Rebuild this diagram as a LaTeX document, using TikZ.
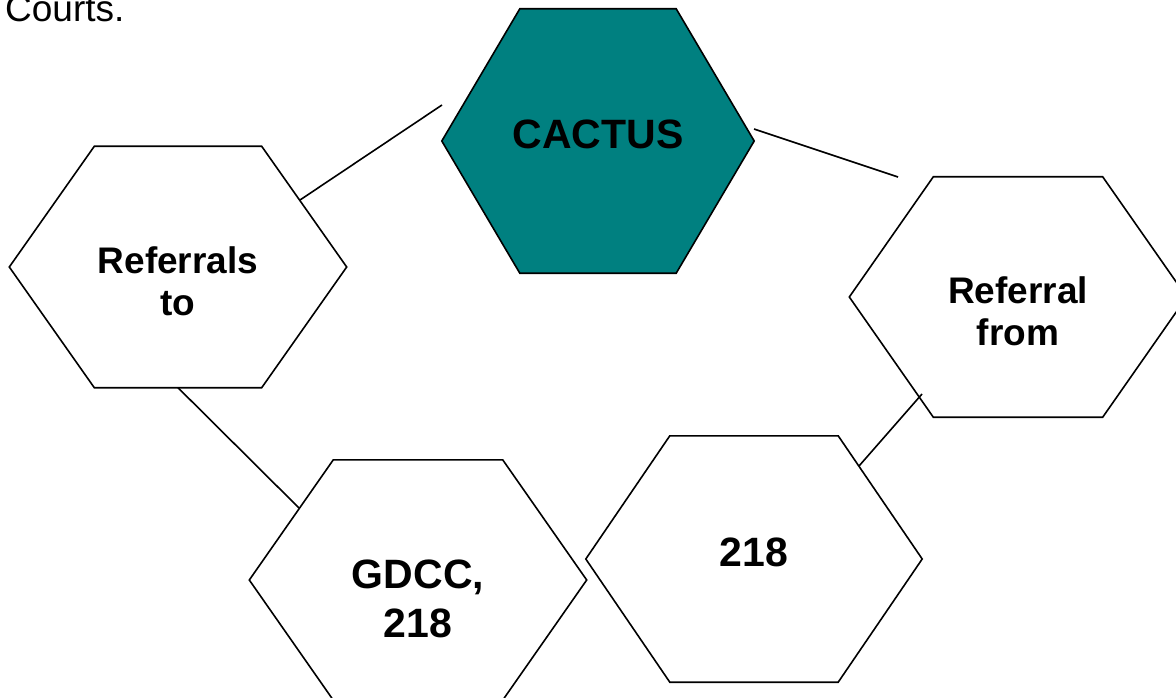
\documentclass[tikz,border=0pt]{standalone}
\usepackage{fontspec}
\setmainfont{Liberation Sans}
\usetikzlibrary{calc}
\definecolor{cactusteal}{RGB}{0,128,128}

\begin{document}
\begin{tikzpicture}[x=1pt,y=-1pt]
    \tikzset{hexbox/.style = {shape=rectangle,inner sep=0pt}}
    \tikzset{hexline/.style = {draw,line width=1.6pt,line join=miter}}
    \tikzset{hextext/.style = {align=center,inner sep=0pt,font=\bfseries\fontsize{37}{42}\selectfont}}
    \tikzset{bigtext/.style = {align=center,inner sep=0pt,font=\bfseries\fontsize{41}{49}\selectfont}}
    \tikzset{link/.style = {line width=1.6pt}}
    \useasboundingbox (0,0) rectangle (1176,698);
    % top text
    \node[anchor=base west,inner sep=0pt,font=\fontsize{37}{42}\selectfont] (courts) at (5,22) {Courts.};
    % hexagons
    \node[hexbox,minimum width=312pt,minimum height=264pt] (cactus) at (598,141) {};
    \node[hexbox,minimum width=337pt,minimum height=241pt] (refto) at (178,267) {};
    \node[hexbox,minimum width=337pt,minimum height=240pt] (reffrom) at (1018,297) {};
    \node[hexbox,minimum width=337pt,minimum height=240pt] (gdcc) at (418,580) {};
    \node[hexbox,minimum width=336pt,minimum height=246pt] (two) at (754,559) {};
    \foreach \n/\c/\f in {cactus/78/cactusteal, refto/85/none, reffrom/84/none, gdcc/84/none, two/84/none}
      \draw[hexline,fill=\f] ($(\n.north west)+(\c,0)$) -- ($(\n.north east)+(-\c,0)$) -- (\n.east)
        -- ($(\n.south east)+(-\c,0)$) -- ($(\n.south west)+(\c,0)$) -- (\n.west) -- cycle;
    % labels
    \node[bigtext] (cactustxt) at (598,134) {CACTUS};
    \node[hextext] (reftotxt) at (178,281) {Referrals\\to};
    \node[hextext] (reffromtxt) at (1018,311) {Referral\\from};
    \node[bigtext] (gdcctxt) at (418,599) {GDCC,\\218};
    \node[bigtext] (twotxt) at (754,552) {218};
%%%%%%%%%%%%%%%%%
    % connectors
    \coordinate (la) at (300,200);
    \coordinate (lb) at (442,105);
    \coordinate (lc) at (754,129);
    \coordinate (ld) at (898,177);
    \coordinate (le) at (859,466);
    \coordinate (lf) at (922,394);
    \draw[link] (la) -- (lb);
    \draw[link] (lc) -- (ld);
    \draw[link] (refto.south) -- (299,508);
    \draw[link] (le) -- (lf);
\end{tikzpicture}
\end{document}
